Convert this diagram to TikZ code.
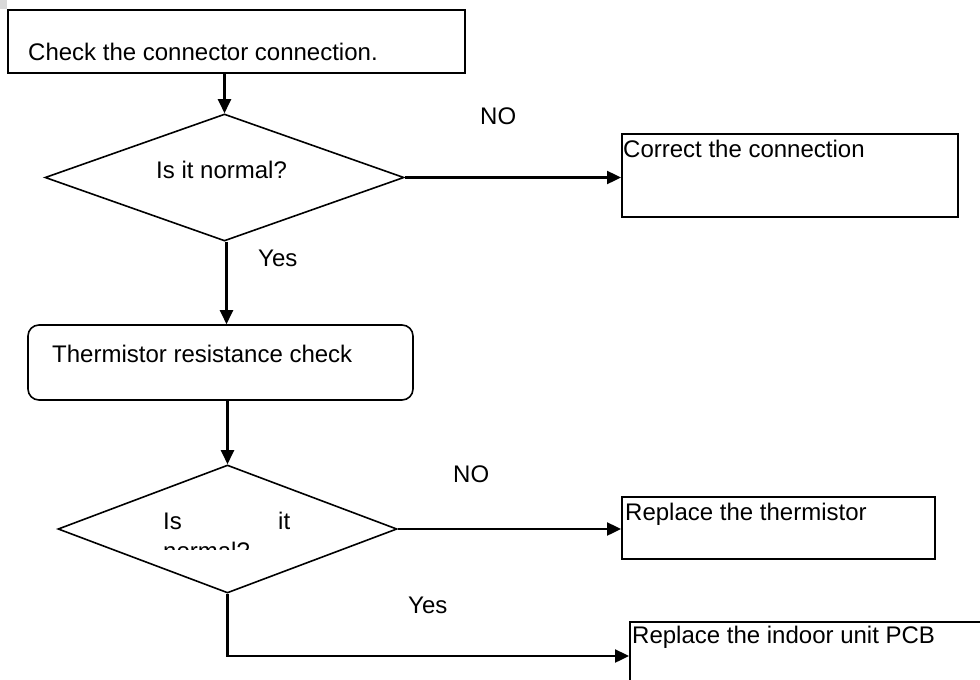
\documentclass[tikz,border=0pt]{standalone}
\usepackage{fontspec}
\setmainfont{Liberation Sans}
\usetikzlibrary{shapes.geometric,arrows.meta}
\begin{document}
\begin{tikzpicture}[x=1pt,y=-1pt,
  boxshape/.style={draw,line width=2pt,rectangle,inner sep=0pt},
  roundshape/.style={draw,line width=1.6pt,rectangle,rounded corners=11pt,inner sep=0pt},
  decshape/.style={draw,line width=1.6pt,diamond,inner sep=0pt},
  txt/.style={anchor=base west,inner sep=0pt,font=\fontsize{24}{28}\selectfont},
  conn/.style={line width=2.4pt,-{Triangle[length=14pt,width=13pt]}},
  plain/.style={line width=2.4pt}]
\useasboundingbox (0,0) rectangle (980,680);
\fill[black!15] (0,0) rectangle (7,9);
\clip (0,0) rectangle (980,680);
% boxes
\node[boxshape,minimum width=457pt,minimum height=63pt] (box1) at (236.5,41) {};
\node[txt] (t1) at (28,60) {Check the connector connection.};
\node[decshape,minimum width=359pt,minimum height=127pt] (d1) at (224.5,177.5) {};
\node[txt] (t2) at (156,178) {Is it normal?};
\node[boxshape,minimum width=336pt,minimum height=83pt] (box2) at (790,175) {};
\node[txt] (t3) at (623,157) {Correct the connection};
\node[roundshape,minimum width=385pt,minimum height=75pt] (rbox) at (220.5,362.5) {};
\node[txt] (t4) at (52,362) {Thermistor resistance check};
\node[decshape,minimum width=339pt,minimum height=128pt] (d2) at (227.5,529) {};
\begin{scope}
\clip (60,440) rectangle (400,549.5);
\node[txt] (t5a) at (163,529) {Is};
\node[txt] (t5b) at (278,529) {it};
\node[txt] (t5c) at (163,559) {normal?};
\end{scope}
\node[boxshape,minimum width=313pt,minimum height=62pt] (box3) at (778.5,528) {};
\node[txt] (t6) at (625,520) {Replace the thermistor};
\node[boxshape,minimum width=380pt,minimum height=68pt] (box4) at (820,656) {};
\node[txt] (t7) at (632,643) {Replace the indoor unit PCB};
% labels
\node[txt] (no1) at (480,124) {NO};
\node[txt] (yes1) at (258,266) {Yes};
\node[txt] (no2) at (453,482) {NO};
\node[txt] (yes2) at (408,613) {Yes};
% connectors
\draw[conn] (box1.south -| d1.north) -- (d1.north);
\draw[conn] (d1.east) -- (d1.east -| box2.west);
\draw[conn] ([xshift=2pt]d1.south) -- ([xshift=2pt]d1.south |- rbox.north);
\draw[conn] (rbox.south -| d2.north) -- (d2.north);
\draw[conn] (d2.east) -- (d2.east -| box3.west);
\draw[conn] (d2.south) |- (box4.west);
\end{tikzpicture}
\end{document}
